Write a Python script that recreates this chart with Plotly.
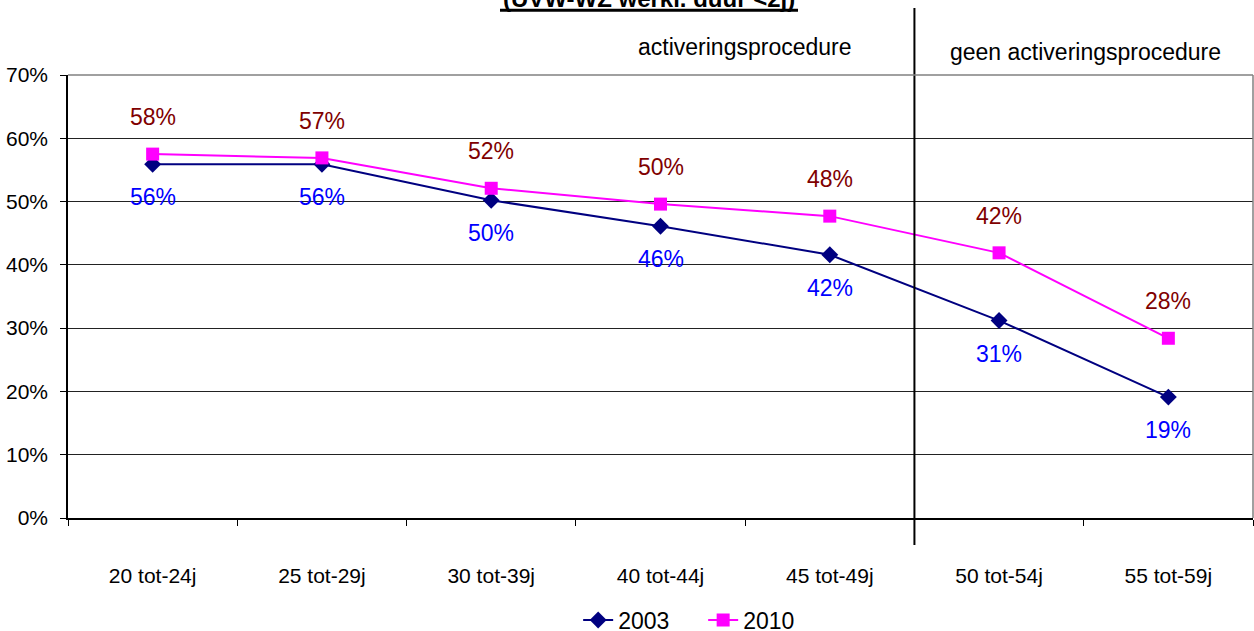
import plotly.graph_objects as go

categories = ["20 tot-24j", "25 tot-29j", "30 tot-39j", "40 tot-44j", "45 tot-49j", "50 tot-54j", "55 tot-59j"]
values_2003 = [55.9, 55.9, 50.2, 46.1, 41.6, 31.2, 19.1]
values_2010 = [57.5, 56.9, 52.1, 49.6, 47.7, 41.9, 28.4]
labels_2003 = ["56%", "56%", "50%", "46%", "42%", "31%", "19%"]
labels_2010 = ["58%", "57%", "52%", "50%", "48%", "42%", "28%"]
y_ticks = [0, 10, 20, 30, 40, 50, 60, 70]
y_ticktext = ["0%", "10%", "20%", "30%", "40%", "50%", "60%", "70%"]
title_text = "(UVW-WZ werkl. duur <2j)"
left_note = "activeringsprocedure"
right_note = "geen activeringsprocedure"
split_after = 5  # number of categories in 'activeringsprocedure' part

FONT = "Arial, 'Liberation Sans', sans-serif"

fig = go.Figure()
fig.add_trace(go.Scatter(
    x=categories, y=values_2003, name="2003", mode="lines+markers",
    line=dict(color="#000080", width=2),
    marker=dict(symbol="diamond", size=13, color="#000080"),
))
fig.add_trace(go.Scatter(
    x=categories, y=values_2010, name="2010", mode="lines+markers",
    line=dict(color="#FF00FF", width=2),
    marker=dict(symbol="square", size=13, color="#FF00FF"),
))

annotations = []
for c, v, t in zip(categories, values_2010, labels_2010):
    annotations.append(dict(x=c, y=v, xref="x", yref="y", text=t, showarrow=False,
                            xanchor="center", yshift=37,
                            font=dict(size=23, color="#800000", family=FONT)))
for c, v, t in zip(categories, values_2003, labels_2003):
    annotations.append(dict(x=c, y=v, xref="x", yref="y", text=t, showarrow=False,
                            xanchor="center", yshift=-33,
                            font=dict(size=23, color="#0000FF", family=FONT)))

annotations += [
    dict(x=0.571, y=1.063, xref="paper", yref="paper", text=left_note, showarrow=False,
         xanchor="center", yanchor="middle", font=dict(size=23, color="black", family=FONT)),
    dict(x=0.859, y=1.052, xref="paper", yref="paper", text=right_note, showarrow=False,
         xanchor="center", yanchor="middle", font=dict(size=23, color="black", family=FONT)),
    dict(x=0.490, y=1.172, xref="paper", yref="paper", text="<b>" + title_text + "</b>",
         showarrow=False, xanchor="center", yanchor="middle",
         font=dict(size=24, color="black", family=FONT)),
]

sep = split_after / len(categories)
shapes = [
    # separator line
    dict(type="line", xref="paper", yref="paper", x0=sep, x1=sep, y0=-0.061, y1=1.151,
         line=dict(color="black", width=2), layer="above"),
    # top and right plot border (gray)
    dict(type="line", xref="paper", yref="paper", x0=0, x1=1, y0=1, y1=1,
         line=dict(color="#808080", width=1.5), layer="above"),
    dict(type="line", xref="paper", yref="paper", x0=1, x1=1, y0=0, y1=1,
         line=dict(color="#808080", width=1.5), layer="above"),
    # title underline
    dict(type="line", xref="paper", yref="paper", x0=(500 - 68) / 1185, x1=(798 - 68) / 1185,
         y0=1.146, y1=1.146, line=dict(color="black", width=3)),
]

fig.update_layout(
    width=1254, height=631,
    margin=dict(l=68, r=1, t=75, b=113, autoexpand=False),
    paper_bgcolor="white", plot_bgcolor="white",
    font=dict(family=FONT, color="black"),
    showlegend=True,
    legend=dict(orientation="h", x=0.536, xanchor="center",
                yref="container", y=(631 - 620) / 631, yanchor="middle",
                entrywidth=80, entrywidthmode="pixels",
                font=dict(size=23, family=FONT), bgcolor="rgba(0,0,0,0)"),
    annotations=annotations,
    shapes=shapes,
)
fig.update_xaxes(
    type="category", range=[-0.5, len(categories) - 0.5],
    showline=True, linecolor="black", linewidth=1.5,
    ticks="outside", tickson="boundaries", ticklen=6, tickcolor="black",
    showgrid=False, tickfont=dict(size=21, family=FONT, color="black"),
    ticklabelstandoff=38, automargin=False,
)
fig.update_yaxes(
    range=[0, 70], tickvals=y_ticks, ticktext=y_ticktext,
    showline=True, linecolor="black", linewidth=1.5,
    ticks="outside", ticklen=6, tickcolor="black",
    showgrid=True, gridcolor="#222222", gridwidth=1, zeroline=False,
    tickfont=dict(size=21, family=FONT, color="black"),
    ticklabelstandoff=8, automargin=False,
)

fig.write_html(
    "out.html",
    config={"displayModeBar": False},
    post_script="document.body.style.margin='0';document.body.style.overflow='hidden';",
)
